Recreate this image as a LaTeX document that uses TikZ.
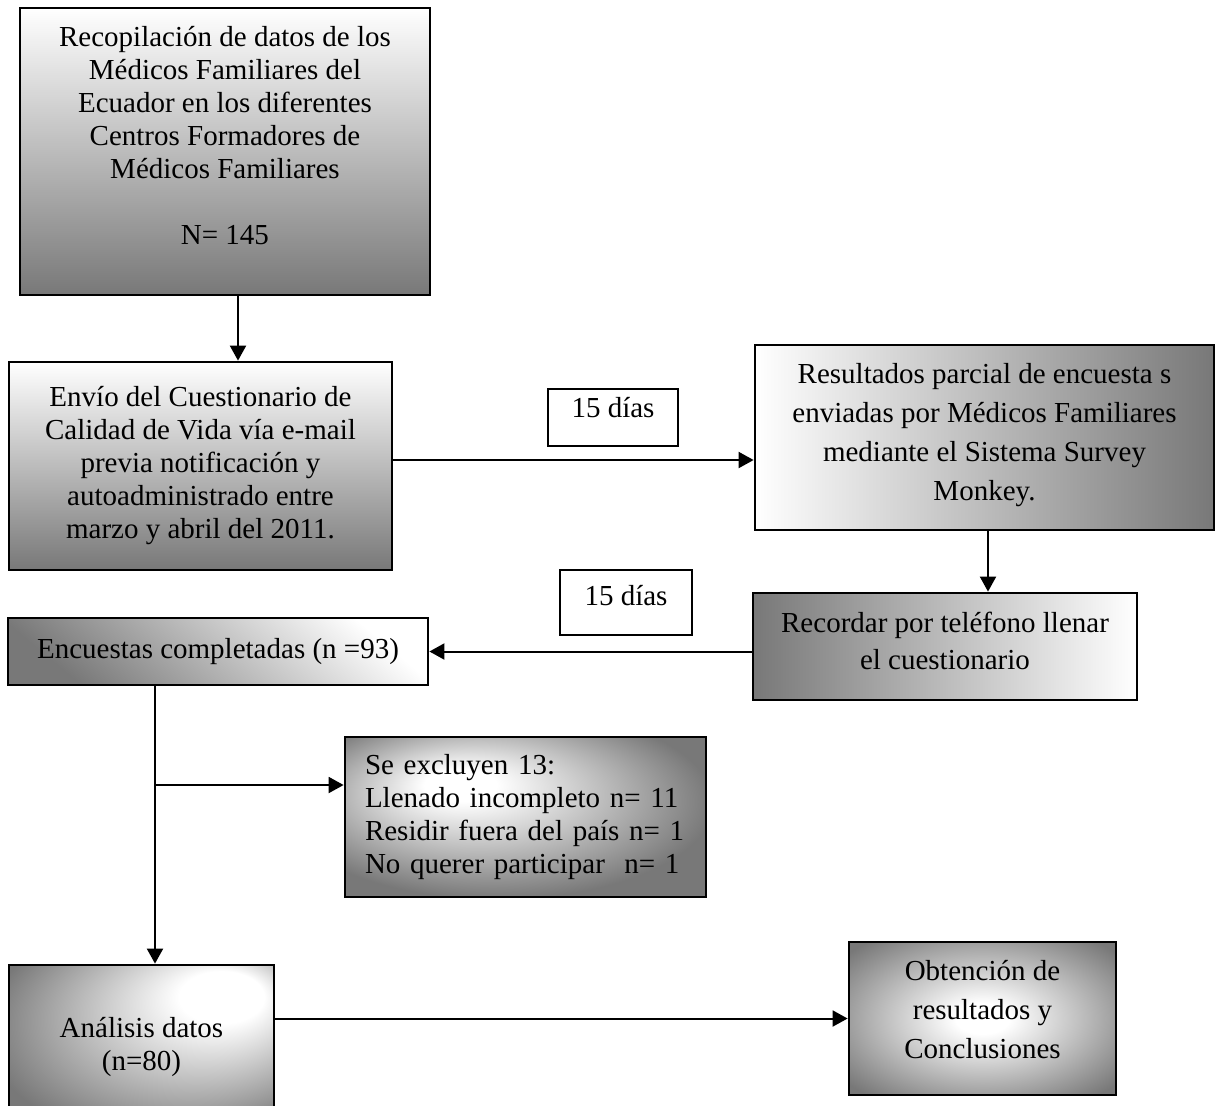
\documentclass[tikz,border=0pt]{standalone}
\usepackage{fontspec}
\setmainfont{Liberation Serif}
\usetikzlibrary{arrows.meta}

\definecolor{wdgray}{RGB}{120,120,120}
\pgfdeclareradialshading{spotleft}{\pgfpoint{-10bp}{11bp}}{color(0bp)=(white); color(5bp)=(white); color(30bp)=(wdgray); color(50bp)=(wdgray)}
\pgfdeclareradialshading{spotright}{\pgfpoint{18bp}{18bp}}{color(0bp)=(white); color(8bp)=(white); color(35bp)=(wdgray); color(50bp)=(wdgray)}
\pgfdeclareradialshading{glow}{\pgfpointorigin}{color(0bp)=(white); color(5bp)=(white); color(33bp)=(wdgray); color(50bp)=(wdgray)}

\tikzset{
  box/.style={draw, line width=1.4pt, align=center, inner sep=4pt,
    font=\fontsize{14.5pt}{16.5pt}\selectfont},
  daybox/.style={draw, line width=1pt, fill=white, inner sep=4pt,
    font=\fontsize{14.5pt}{16.5pt}\selectfont},
  >={Triangle[length=7.5pt,width=8pt]}
}

\begin{document}
\begin{tikzpicture}[x=0.5pt,y=-0.5pt]
            \useasboundingbox (0,0) rectangle (1215,1105);
            \node[box, top color=white, bottom color=wdgray, minimum width=205pt, minimum height=143.5pt] (recop) at (225,151.5)
                {Recopilación de datos de los\\ Médicos Familiares del\\ Ecuador en los diferentes\\ Centros Formadores de\\ Médicos Familiares\\[16.5pt] N= 145\rule[-16pt]{0pt}{16pt}};
            \node[box, top color=white, bottom color=wdgray, minimum width=191.5pt, minimum height=104pt] (envio) at (200.5,466)
                {Envío del Cuestionario de\\ Calidad de Vida vía e-mail\\ previa notificación y\\ autoadministrado entre\\ marzo y abril del 2011.};
            \node[box, left color=white, right color=wdgray, minimum width=229.5pt, minimum height=92.5pt] (res) at (984.5,437.5)
                {Resultados parcial de encuesta s\\[3pt] enviadas por Médicos Familiares\\[3pt] mediante el Sistema Survey\\[3pt] Monkey.\rule[-6pt]{0pt}{6pt}};
            \node[box, left color=wdgray, right color=white, minimum width=192pt, minimum height=53.5pt] (rec) at (945,646.5)
                {Recordar por teléfono llenar\\[2pt] el cuestionario\rule[-6pt]{0pt}{6pt}};
            \node[box, top color=white, bottom color=wdgray, shading angle=-40, minimum width=210pt, minimum height=33.5pt] (enc) at (218,651.5)
                {Encuestas completadas (n =93)};
            \node[box, shade, shading=spotleft, align=left, text width=160.5pt, inner xsep=10pt, minimum height=80pt] (exc) at (525.5,817)
                {Se excluyen 13:\\ Llenado incompleto n= 11\\ Residir fuera del país n= 1\\ No querer participar\ \ n= 1};
            \node[box, shade, shading=spotright, minimum width=132.5pt, minimum height=81.5pt] (ana) at (141.5,1046.5)
                {Análisis datos\\ (n=80)};
            \node[box, shade, shading=glow, minimum width=133.5pt, minimum height=76.5pt] (obt) at (982.5,1018.5)
                {Obtención de\\[3pt] resultados y\\[3pt] Conclusiones\rule[-9pt]{0pt}{9pt}};
            \node[daybox, minimum width=65pt, minimum height=25.5pt] (dias1) at (613,417.5) {15 días\rule[-10pt]{0pt}{10pt}};
            \node[daybox, minimum width=66pt, minimum height=32.5pt] (dias2) at (626,602.5) {15 días\rule[-7pt]{0pt}{7pt}};
            % arrows
            \draw[->, line width=1pt] ([xshift=6.5pt]recop.south) -- ([xshift=6.5pt]recop.south |- envio.north);
            \draw[->, line width=1pt] ([yshift=3pt]envio.east) -- ([yshift=3pt]envio.east -| res.west);
            \draw[->, line width=1pt] ([xshift=1.75pt]res.south) -- ([xshift=1.75pt]res.south |- rec.north);
            \draw[->, line width=1pt] (rec.west |- enc.east) -- (enc.east);
            \coordinate (split) at (155,785);
            \draw[->, line width=1pt] (split |- enc.south) -- (split |- ana.north);
            \draw[->, line width=1pt] (split) -- (split -| exc.west);
            \draw[->, line width=1pt] (ana.east |- obt.west) -- (obt.west);
        \end{tikzpicture}
\end{document}
